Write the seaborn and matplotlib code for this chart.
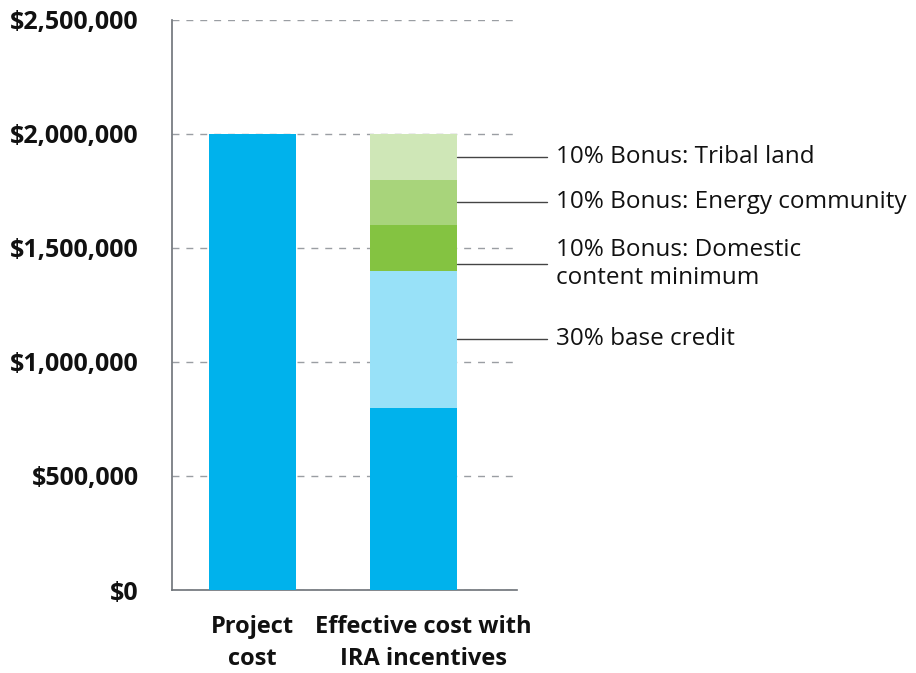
import matplotlib
matplotlib.use("Agg")
import matplotlib.pyplot as plt
import matplotlib.transforms as mtransforms
import seaborn as sns
import pandas as pd
import numpy as np

# Cost categories on the x axis
categories = ["Project\ncost", "Effective cost with\nIRA incentives"]

# Stack layers for the second bar, bottom to top (dollars)
layers = ["Effective cost", "30% base credit", "10% Bonus: Domestic\ncontent minimum",
          "10% Bonus: Energy community", "10% Bonus: Tribal land"]
layer_values = [800_000, 600_000, 200_000, 200_000, 200_000]
layer_colors = ["#00B2EC", "#98E1F8", "#84C341", "#A8D47B", "#CFE7B7"]

# Full project cost for the first bar
project_cost = 2_000_000

y_ticks = [0, 500_000, 1_000_000, 1_500_000, 2_000_000, 2_500_000]

sns.set_theme(style="white")
plt.rcParams["font.family"] = ["Open Sans", "DejaVu Sans"]

fig = plt.figure(figsize=(9.16, 6.73), dpi=100)
ax = fig.add_axes([172 / 916, 1 - 590 / 673, (517 - 172) / 916, (590 - 20) / 673])

# Stacked bars: draw cumulative totals from the top layer down
cum = np.cumsum(layer_values)
bar_w = 0.54
for i in range(len(layers) - 1, -1, -1):
    df = pd.DataFrame({"category": [categories[1]], "value": [cum[i]]})
    sns.barplot(data=df, x="category", y="value", order=categories, color=layer_colors[i],
                saturation=1, width=bar_w, ax=ax, linewidth=0, zorder=3)
df0 = pd.DataFrame({"category": [categories[0]], "value": [project_cost]})
sns.barplot(data=df0, x="category", y="value", order=categories, color=layer_colors[0],
            saturation=1, width=bar_w, ax=ax, linewidth=0, zorder=3)

ax.set_xlim(-0.5, 1.643)
ax.set_ylim(0, 2_500_000)
ax.set_yticks(y_ticks)
ax.set_yticklabels([f"${v:,.0f}" for v in y_ticks], fontweight="bold", fontsize=18,
                   color="#111111")
ax.set_xticks([0, 1])
ax.set_xticklabels(categories, fontweight="bold", fontsize=17, color="#111111",
                   linespacing=1.45)
ax.tick_params(axis="y", length=0, pad=24)
ax.tick_params(axis="x", length=0, pad=18)
ax.set_xlabel("")
ax.set_ylabel("")

# Nudge the wider second category label slightly to the right
lbl = ax.get_xticklabels()[1]
lbl.set_transform(lbl.get_transform() +
                  mtransforms.ScaledTranslation(0.1, 0, fig.dpi_scale_trans))

ax.set_axisbelow(True)
ax.yaxis.grid(True, color="#9a9ea3", linestyle=(0, (5, 5)), linewidth=1.0)
ax.xaxis.grid(False)
for side in ["top", "right"]:
    ax.spines[side].set_visible(False)
ax.spines["left"].set_color("#6d7278")
ax.spines["left"].set_linewidth(1.2)
ax.spines["bottom"].set_color("#6d7278")
ax.spines["bottom"].set_linewidth(1.2)

# Leader lines and labels for the incentive layers
bar_right = 1 + bar_w / 2
line_end = 1.829
text_x = 1.885
bottoms = cum - np.array(layer_values)
label_shift = {2: -70_000}
for i in range(1, len(layers)):
    y = bottoms[i] + layer_values[i] / 2 + label_shift.get(i, 0)
    ax.plot([bar_right, line_end], [y, y], color="#444444", linewidth=1.0,
            clip_on=False, zorder=4)
    ax.text(text_x, y, layers[i], fontsize=17.5, color="#111111", va="center",
            ha="left", linespacing=1.2, clip_on=False)

fig.savefig("out.png", dpi=100)
